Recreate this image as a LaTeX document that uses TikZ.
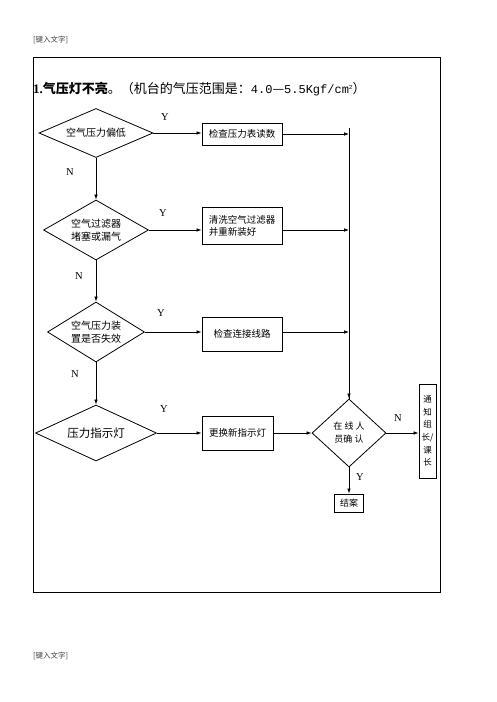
\documentclass[tikz,border=0pt]{standalone}
\usepackage{fontspec}
\setmainfont{Liberation Serif}
\newfontfamily\cjk{Noto Sans CJK SC}
\newfontfamily\monofnt{Liberation Mono}
\usetikzlibrary{shapes.geometric,arrows.meta,calc}
\begin{document}
\begin{tikzpicture}[x=1pt,y=-1pt,
  box/.style={draw,line width=0.9pt,inner sep=0pt,align=center,
    font=\cjk\fontsize{9.5}{12}\selectfont},
  dia/.style={draw,diamond,line width=0.8pt,inner sep=0pt,align=center,
    font=\cjk\fontsize{10}{13}\selectfont},
  lab/.style={font=\fontsize{10.5}{12}\selectfont,inner sep=0pt},
  arr/.style={-{Latex[length=5pt,width=3.6pt]},line width=0.7pt},
  ln/.style={line width=0.7pt},
  hdr/.style={anchor=west,inner sep=0pt,text=black!75,font=\cjk\fontsize{7.5}{9}\selectfont}]
\useasboundingbox (0,0) rectangle (496,702);
\fill[white] (0,0) rectangle (496,702);
% header and footer
\node[hdr] (hd) at (33,40) {[键入文字]};
\node[hdr] (ft) at (33,656) {[键入文字]};
% frame
\draw[line width=0.8pt] (33,57) rectangle (440,592);
% title
\node[anchor=base west,inner sep=0pt] (title) at (33,93)
  {\fontsize{13}{15}\selectfont\textbf{1.}{\cjk\bfseries 气压灯不亮}{\cjk 。（机台的气压范围是：}{\monofnt\fontsize{12}{15}\selectfont 4.0}{\cjk —}{\monofnt\fontsize{12}{15}\selectfont 5.5Kgf/cm\raisebox{4pt}{\fontsize{6}{7}\selectfont 2}}{\cjk ）}};
% decisions
\node[dia,shape aspect=2.3,minimum width=114pt,minimum height=49pt] (d1) at (96,133) {空气压力偏低};
\node[dia,shape aspect=1.75,minimum width=105pt,minimum height=60pt] (d2) at (96,230) {空气过滤器\\堵塞或漏气};
\node[dia,shape aspect=1.6,minimum width=97pt,minimum height=60pt] (d3) at (96,332) {空气压力装\\置是否失效};
\node[dia,shape aspect=2.2,minimum width=121pt,minimum height=56pt,font=\cjk\fontsize{11.5}{13}\selectfont] (d4) at (96,433) {压力指示灯};
\node[dia,shape aspect=1.1,minimum width=74pt,minimum height=68pt,font=\cjk\fontsize{9}{13}\selectfont] (dec) at (349,433) {在 线 人\\员确 认};
% boxes
\node[box,minimum width=80pt,minimum height=22pt] (b1) at (242,134) {检查压力表读数};
\node[box,minimum width=80pt,minimum height=37pt,align=left] (b2) at (242,225.5) {清洗空气过滤器\\并重新装好};
\node[box,minimum width=80pt,minimum height=34pt] (b3) at (242,334) {检查连接线路};
\node[box,minimum width=71pt,minimum height=34pt] (b4) at (237.5,433) {更换新指示灯};
\node[box,minimum width=17pt,minimum height=94pt,font=\cjk\fontsize{8.5}{12.6}\selectfont] (nb) at (427.5,431) {通\\知\\组\\长/\\课\\长};
\node[box,minimum width=29pt,minimum height=18pt,font=\cjk\fontsize{9}{11}\selectfont] (end) at (349,503) {结案};
% junction coordinates
\coordinate (vt) at (349,128);
% connectors: Y branches
\draw[arr] (d1.east) -- (d1.east -| b1.west);
\draw[arr] (d2.east) -- (d2.east -| b2.west);
\draw[arr] (d3.east) -- (d3.east -| b3.west);
\draw[arr] (d4.east) -- (d4.east -| b4.west);
% N branches
\draw[arr] (d1.south) -- (d2.north);
\draw[arr] (d2.south) -- (d3.north);
\draw[arr] (d3.south) -- (d4.north);
% boxes to collector line
\draw[arr] (b1.east) -- (b1.east -| vt);
\draw[arr] (b2.east |- d2.east) -- (d2.east -| vt);
\draw[arr] (b3.east |- d3.east) -- (d3.east -| vt);
\draw[ln] (vt) -- (dec.north);
\draw[arr] ($(dec.north)+(0,-12)$) -- (dec.north);
\draw[arr] (b4.east) -- (dec.west);
\draw[arr] (dec.east) -- (dec.east -| nb.west);
\draw[arr] (dec.south) -- (end.north);
% labels
\node[lab] (y1) at (165,117) {Y};
\node[lab] (n1) at (70,172) {N};
\node[lab] (y2) at (163,213) {Y};
\node[lab] (n2) at (79,276) {N};
\node[lab] (y3) at (161,313) {Y};
\node[lab] (n3) at (75,374) {N};
\node[lab] (y4) at (164,409) {Y};
\node[lab] (n5) at (398,418) {N};
\node[lab] (y5) at (360,477) {Y};
\end{tikzpicture}
\end{document}
